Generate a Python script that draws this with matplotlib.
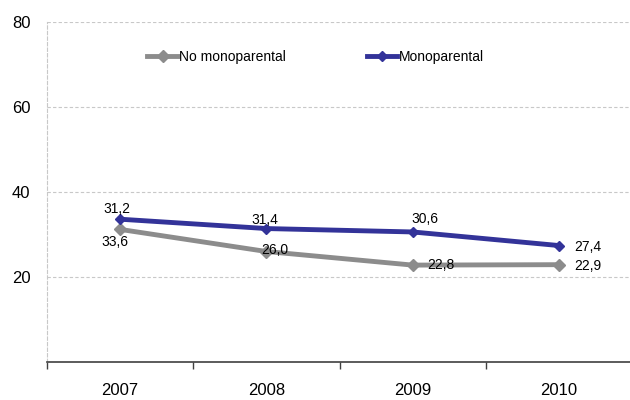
import matplotlib
matplotlib.use('Agg')

import matplotlib.pyplot as plt
from matplotlib.ticker import FixedLocator

# data
years = ['2007', '2008', '2009', '2010']
no_mono = [31.2, 26.0, 22.8, 22.9]
mono = [33.6, 31.4, 30.6, 27.4]
# label texts exactly as printed next to each series
no_mono_labels = ['33,6', '26,0', '22,8', '22,9']
mono_labels = ['31,2', '31,4', '30,6', '27,4']

GREY = '#8c8c8c'
BLUE = '#333399'

plt.rcParams['font.family'] = ['Liberation Sans Narrow', 'Liberation Sans', 'DejaVu Sans']

fig = plt.figure(figsize=(6.3, 4.0), dpi=100)
ax = fig.add_axes([47 / 630, 1 - 362 / 400, 585 / 630, 340 / 400])

x = list(range(len(years)))
ax.plot(x, no_mono, color=GREY, lw=3.5, marker='D', ms=6, label='No monoparental', zorder=3)
ax.plot(x, mono, color=BLUE, lw=3.5, marker='D', ms=5, label='Monoparental', zorder=4)

# label offsets (points) copied from the reference placement
off_grey = [(-4, -9), (6, 1), (20, 0), (21, -1)]
off_blue = [(-2, 7), (-1, 6.5), (9, 9), (21, -1)]
for i in x:
    ax.annotate(no_mono_labels[i], (i, no_mono[i]), xytext=off_grey[i], textcoords='offset points',
                ha='center', va='center', fontsize=10, zorder=5)
    ax.annotate(mono_labels[i], (i, mono[i]), xytext=off_blue[i], textcoords='offset points',
                ha='center', va='center', fontsize=10, zorder=5)

ax.set_xlim(-0.5, 3.5)
ax.set_ylim(0, 80)
ax.set_yticks([20, 40, 60, 80])
ax.yaxis.grid(True, color='#c8c8c8', ls=(0, (3, 2)), lw=0.8)
ax.tick_params(axis='y', length=0, pad=12, labelsize=12)

ax.set_xticks(x)
ax.set_xticklabels(years)
ax.xaxis.set_minor_locator(FixedLocator([-0.5, 0.5, 1.5, 2.5, 3.5]))
ax.tick_params(axis='x', which='major', length=0, pad=15, labelsize=12)
ax.tick_params(axis='x', which='minor', length=5, width=1, color='#404040', direction='out')

for s in ['top', 'right']:
    ax.spines[s].set_visible(False)
ax.spines['left'].set_color('#c8c8c8')
ax.spines['left'].set_linestyle((0, (3, 2)))
ax.spines['left'].set_linewidth(0.8)
ax.spines['bottom'].set_color('#404040')
ax.spines['bottom'].set_linewidth(1.2)

leg = ax.legend(loc='upper left', bbox_to_anchor=(0.15, 0.955), ncol=2, frameon=False,
                fontsize=10, handlelength=2.2, handletextpad=0.1, columnspacing=5.8)

fig.savefig('out.png', dpi=100)
